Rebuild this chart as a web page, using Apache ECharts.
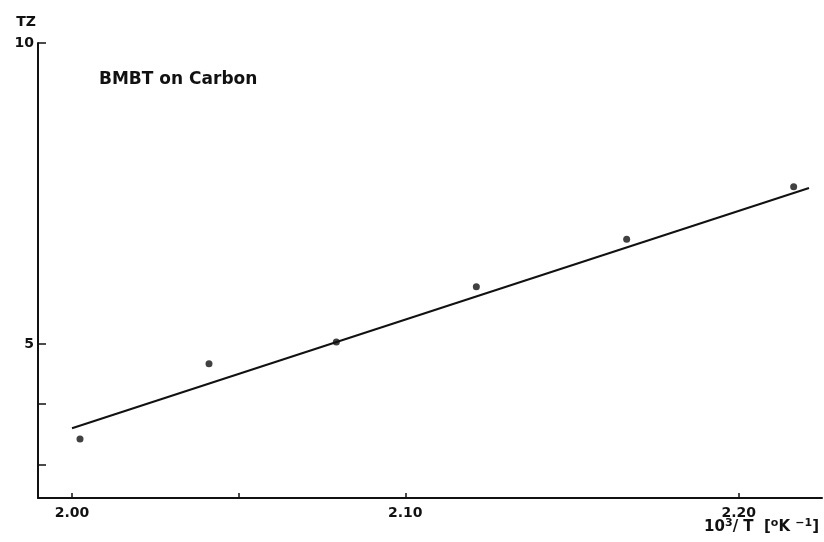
<!DOCTYPE html>
<html>
<head>
<meta charset="utf-8">
<script src="https://cdn.jsdelivr.net/npm/echarts@6/dist/echarts.min.js"></script>
<style>
  html, body { margin: 0; padding: 0; background: #fff; }
  #main { width: 824px; height: 542px; }
</style>
</head>
<body>
<div id="main"></div>
<script>
// measured points (10^3/T, TZ)
const invT = [2.0024, 2.0411, 2.0793, 2.1213, 2.1664, 2.2165];
const tz = [3.42, 4.67, 5.03, 5.95, 6.74, 7.61];
// drawn fit line ends
const fitX = [2.000, 2.2211];
const fitY = [3.60, 7.59];
// axis ticks / labels
const xLabels = [2.00, 2.10, 2.20];
const xTicks = [2.00, 2.05, 2.10, 2.20];
const yLabels = [5, 10];
const yTicks = [3, 4, 5, 10];

const font = 'DejaVu Sans, Arial, sans-serif';

let chart = echarts.init(document.getElementById('main'));
chart.setOption({
    animation: false,
    backgroundColor: '#fff',
    title: [{
        text: 'BMBT on Carbon',
        left: 94, top: 66,
        textStyle: {fontFamily: font, fontWeight: 'bold', fontSize: 17, color: '#111'}
    }, {
        // x axis name
        text: '{m|10}{s|3}{m|/ T  [}{s|o}{m|K }{s|−1}{m|]}',
        right: 0, top: 512,
        textStyle: {
            rich: {
                m: {fontFamily: font, fontWeight: 'bold', fontSize: 15, color: '#111', lineHeight: 20},
                s: {fontFamily: font, fontWeight: 'bold', fontSize: 11, color: '#111', lineHeight: 20, padding: [0, 0, 8, 0]}
            }
        }
    }],
    grid: {left: 38, right: 2, top: 43, bottom: 44, outerBoundsMode: 'none'},
    xAxis: {
        type: 'value',
        min: 1.9898, max: 2.225,
        splitLine: {show: false},
        axisLine: {lineStyle: {color: '#111', width: 2}},
        axisTick: {inside: true, length: 5, customValues: xTicks, lineStyle: {color: '#111', width: 1.5}},
        axisLabel: {customValues: xLabels, formatter: v => v.toFixed(2), margin: 8,
            fontFamily: font, fontWeight: 'bold', fontSize: 14, color: '#111'}
    },
    yAxis: {
        type: 'value',
        min: 2.44, max: 10,
        name: 'TZ',
        nameLocation: 'end',
        nameGap: 14,
        nameTextStyle: {fontFamily: font, fontWeight: 'bold', fontSize: 14, color: '#111',
            align: 'right', padding: [0, 2, 0, 0]},
        splitLine: {show: false},
        axisLine: {lineStyle: {color: '#111', width: 2}},
        axisTick: {inside: true, length: 8, customValues: yTicks, lineStyle: {color: '#111', width: 1.5}},
        axisLabel: {customValues: yLabels, margin: 4,
            fontFamily: font, fontWeight: 'bold', fontSize: 14, color: '#111'}
    },
    series: [{
        type: 'line',
        data: fitX.map((x, i) => [x, fitY[i]]),
        showSymbol: false,
        lineStyle: {color: '#111', width: 2}
    }, {
        type: 'scatter',
        data: invT.map((x, i) => [x, tz[i]]),
        symbolSize: 7,
        itemStyle: {color: '#111'}
    }]
});
</script>
</body>
</html>
